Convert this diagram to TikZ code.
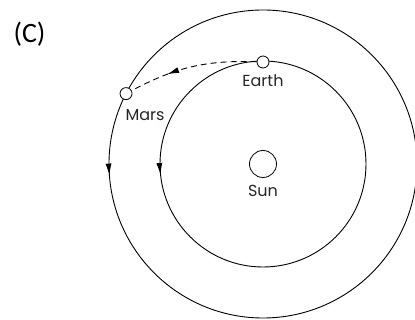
\documentclass[tikz,border=0pt]{standalone}
\usepackage{fontspec}
\setsansfont{Poppins}
\newfontfamily\tagfont{Carlito}
\usetikzlibrary{positioning,decorations.markings,arrows.meta}

\begin{document}
\begin{tikzpicture}[x=1pt, y=1pt,
    orbit/.style={draw=black, line width=0.9pt},
    body/.style={circle, draw=black, fill=white, line width=0.8pt, inner sep=0pt},
    label/.style={font=\sffamily\fontsize{16}{16}\selectfont, text=black!85},
    transfer/.style={draw=black, line width=0.9pt, dash pattern=on 6pt off 4pt},
    midtip/.style={postaction={decorate}, decoration={markings,
        mark=at position #1 with {\arrow{Latex[length=12pt,width=6pt]}}}}
]

% Page frame
\useasboundingbox (-263,-156) rectangle (152,164);

% Panel tag
\node[font=\tagfont\fontsize{28}{28}\selectfont] (tag) at (-233.5,130) {(C)};

% Orbits
\draw[orbit, midtip=0.512] (0,0) circle[radius=154pt];
\draw[orbit, midtip=0.517] (0,0) circle[radius=103pt];

% Sun
\node[body, minimum size=27pt] (sun) at (0,0) {};
\node[label] (sunlbl) at (0,-27) {Sun};

% Earth
\node[body, minimum size=12pt] (earth) at (0,102) {};
\node[label] (earthlbl) at (0,83) {Earth};

% Mars
\node[body, minimum size=12pt] (mars) at (152.8:154) {};
\node[label] (marslbl) at (-118,49) {Mars};

% Transfer path
\draw[transfer, midtip=0.7] (earth) to[bend right=15] (mars);

\end{tikzpicture}
\end{document}
